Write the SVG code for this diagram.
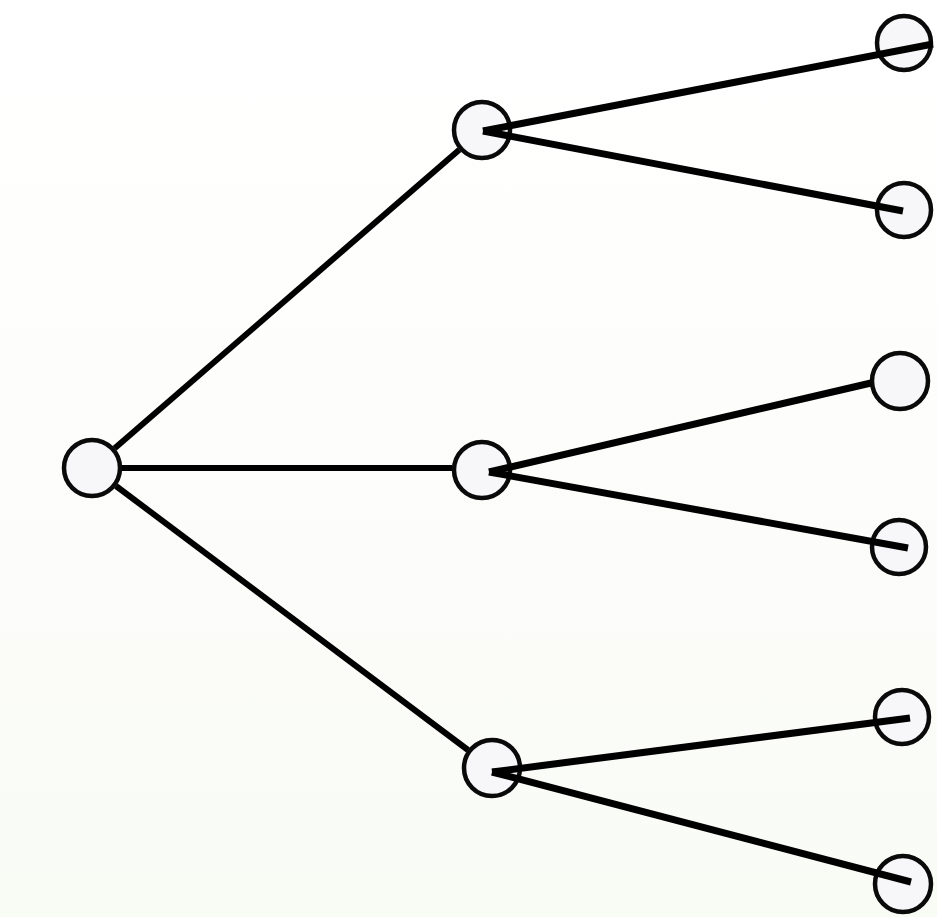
<svg xmlns="http://www.w3.org/2000/svg" width="937" height="917" viewBox="0 0 937 917">
  <defs>
    <linearGradient id="bg" x1="0" y1="0" x2="0" y2="1">
      <stop offset="0" stop-color="#ffffff"/>
      <stop offset="0.3" stop-color="#fefefd"/>
      <stop offset="1" stop-color="#f9fbf5"/>
    </linearGradient>
    <style>
      .node { fill: #f7f7f9; stroke: #0a0a0a; stroke-width: 4.5; }
      .edge { stroke: #000000; stroke-linecap: butt; fill: none; }
      .e1 { stroke-width: 6; }
      .e2 { stroke-width: 7; }
    </style>
  </defs>
  <rect width="937" height="917" fill="url(#bg)"/>
  <g id="nodes">
    <g id="root"><circle class="node" cx="92" cy="468" r="28"/></g>
    <g id="mid-top"><circle class="node" cx="482" cy="130" r="28"/></g>
    <g id="mid-middle"><circle class="node" cx="482" cy="470" r="28"/></g>
    <g id="mid-bottom"><circle class="node" cx="492" cy="768" r="28"/></g>
    <g id="leaf-1"><circle class="node" cx="904" cy="43" r="27"/></g>
    <g id="leaf-2"><circle class="node" cx="904" cy="210" r="27"/></g>
    <g id="leaf-3"><circle class="node" cx="900" cy="381" r="28"/></g>
    <g id="leaf-4"><circle class="node" cx="899" cy="547" r="27"/></g>
    <g id="leaf-5"><circle class="node" cx="902" cy="717" r="27"/></g>
    <g id="leaf-6"><circle class="node" cx="903" cy="884" r="28"/></g>
  </g>
  <g id="connectors">
    <line class="edge e1" x1="114.7" y1="448.3" x2="459.3" y2="149.7"/>
    <line class="edge e1" x1="122" y1="468" x2="452" y2="468"/>
    <line class="edge e1" x1="116" y1="486" x2="468" y2="750"/>
    <line class="edge e2" x1="483" y1="131" x2="933" y2="44"/>
    <line class="edge e2" x1="483" y1="131" x2="903" y2="211"/>
    <line class="edge e2" x1="489" y1="472" x2="871" y2="383"/>
    <line class="edge e2" x1="489" y1="472" x2="908" y2="548"/>
    <line class="edge e2" x1="492" y1="772" x2="910" y2="718"/>
    <line class="edge e2" x1="492" y1="772" x2="911" y2="882"/>
  </g>
</svg>
